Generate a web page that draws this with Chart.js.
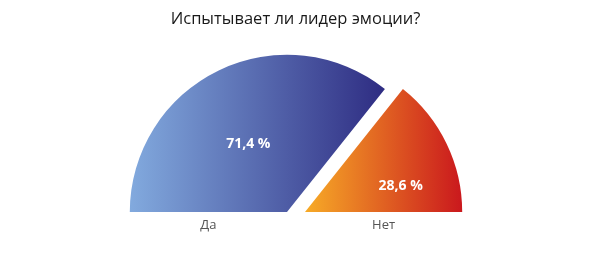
<!DOCTYPE html>
<html lang="ru">
<head>
<meta charset="utf-8">
<script src="https://cdn.jsdelivr.net/npm/chart.js@4.4.1/dist/chart.umd.min.js"></script>
<style>
    html, body { margin: 0; padding: 0; background: #fff; }
    #wrapper { width: 591px; height: 258px; }
</style>
</head>
<body>
<div id="wrapper"><canvas id="graphique"></canvas></div>
<script>
const titre = 'Испытывает ли лидер эмоции?';
const categories = ['Да', 'Нет'];
const valeurs = [71.4, 28.6];
const etiquettes = ['71,4 %', '28,6 %'];

// styles par part (couleurs, écartement, position des étiquettes)
const degrades = [['#82aade', '#2e2c82'], ['#f7ab27', '#ca181d']];
const decalages = [-8.5, 9.5];
const posEtiquettes = [{ angle: 119.5, r: 0.5 }, { angle: 15, r: 0.63 }];
const cotes = [-1, 1];

function etendueX(i) {
    const total = valeurs.reduce((a, b) => a + b, 0);
    let debut = -Math.PI;
    for (let k = 0; k < i; k++) debut += Math.PI * valeurs[k] / total;
    const fin = debut + Math.PI * valeurs[i] / total;
    const xs = [Math.cos(debut), Math.cos(fin), 0];
    if (debut <= -Math.PI + 1e-6) xs.push(-1);
    return [Math.min(...xs), Math.max(...xs)];
}

function degrade(context) {
    const chart = context.chart;
    const zone = chart.chartArea;
    const i = context.dataIndex;
    if (!zone) return degrades[i][0];
    const R = Math.min(zone.width, zone.height * 2) / 2;
    const cx = (zone.left + zone.right) / 2 + decalages[i];
    const [a, b] = etendueX(i);
    const g = chart.ctx.createLinearGradient(cx + a * R, 0, cx + b * R, 0);
    g.addColorStop(0, degrades[i][0]);
    g.addColorStop(1, degrades[i][1]);
    return g;
}

const demiCamembert = {
    id: 'demiCamembert',
    afterDatasetsUpdate(chart) {
        chart.getDatasetMeta(0).data.forEach((arc, i) => {
            arc.x += decalages[i];
        });
    },
    afterDatasetsDraw(chart) {
        const ctx = chart.ctx;
        ctx.save();
        ctx.textAlign = 'center';
        ctx.textBaseline = 'middle';
        chart.getDatasetMeta(0).data.forEach((arc, i) => {
            const R = arc.outerRadius;
            const a = posEtiquettes[i].angle * Math.PI / 180;
            const r = posEtiquettes[i].r * R;
            ctx.fillStyle = '#ffffff';
            ctx.font = 'bold 14px "Open Sans"';
            ctx.fillText(etiquettes[i], arc.x + Math.cos(a) * r, arc.y - Math.sin(a) * r);

            ctx.fillStyle = '#555555';
            ctx.font = '13px "Open Sans"';
            ctx.fillText(categories[i], arc.x + cotes[i] * R / 2, arc.y + 13);
        });
        ctx.restore();
    }
};

const ctx = document.getElementById('graphique').getContext('2d');
new Chart(ctx, {
    type: 'doughnut',
    data: {
        labels: categories,
        datasets: [{
            data: valeurs,
            backgroundColor: degrade,
            borderWidth: 0,
            hoverOffset: 0
        }]
    },
    options: {
        responsive: true,
        maintainAspectRatio: false,
        animation: false,
        rotation: -90,
        circumference: 180,
        cutout: 0,
        layout: { padding: { top: 0, bottom: 46, left: 96, right: 96 } },
        plugins: {
            legend: { display: false },
            tooltip: { enabled: false },
            title: {
                display: true,
                text: titre,
                color: '#1a1a1a',
                font: { family: '"Open Sans"', size: 16.5, weight: 'normal', lineHeight: 1.2 },
                padding: { top: 9, bottom: 26 }
            }
        }
    },
    plugins: [demiCamembert]
});
</script>
</body>
</html>
